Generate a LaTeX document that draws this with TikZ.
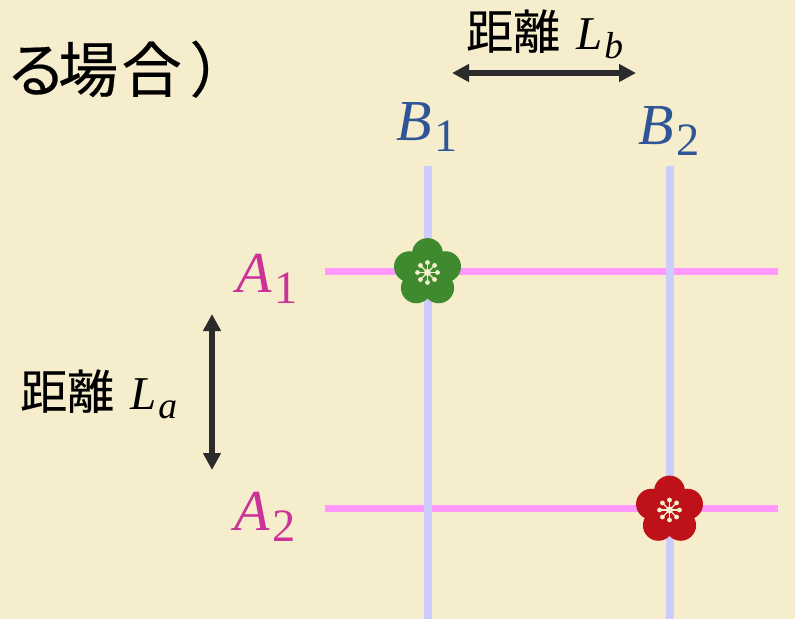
\documentclass[tikz,border=0pt]{standalone}
\usepackage{fontspec}
\usepackage{graphicx}
\newfontfamily\jpfont[FakeBold=0.4]{Noto Sans CJK JP}
\newfontfamily\varfont{Liberation Serif}
\usetikzlibrary{arrows.meta}
\definecolor{bgc}{HTML}{F5EDCB}
\definecolor{pinkline}{HTML}{FF99FF}
\definecolor{lavline}{HTML}{CCCCFF}
\definecolor{magc}{HTML}{CC3399}
\definecolor{bluec}{HTML}{2F5597}
\definecolor{darkc}{HTML}{2B2B2B}
\definecolor{greenf}{HTML}{3F8A2E}
\definecolor{redf}{HTML}{BF1218}
\definecolor{creamf}{HTML}{F6F0CF}
\newcommand{\symb}[3]{{\fontsize{#1pt}{#1pt}\varfont\selectfont\itshape #2\kern3pt\raisebox{-0.2em}{\scalebox{0.8}{\upshape #3}}}}
\newcommand{\dist}[2]{{\fontsize{47pt}{47pt}\jpfont\selectfont #1\hspace{0.34em}\varfont\itshape L\kern2pt\raisebox{-0.2em}{\scalebox{0.8}{#2}}}}
\tikzset{
 x=1pt,y=-1pt,
 hline/.style={pinkline,line width=7.5pt},
 vline/.style={lavline,line width=8pt},
 distarrow/.style={darkc,line width=5.5pt,{Triangle[length=17pt,width=17pt]}-{Triangle[length=17pt,width=17pt]}},
 txt/.style={inner sep=0pt,anchor=base west}
}
\newcommand{\plum}[3]{%
 \begin{scope}[shift={(#1,#2)}]
  \foreach \a in {-90,-18,54,126,198}{\fill[#3] (\a:19) circle[radius=15.4pt];}
  \fill[#3] (0,0) circle[radius=18pt];
  \foreach \a in {0,45,...,315}{
   \draw[creamf,line width=1.3pt] (0,0) -- (\a:10);
   \fill[creamf] (\a:10) circle[radius=2.4pt];}
  \fill[creamf] (0,0) circle[radius=3.5pt];
 \end{scope}}
\begin{document}
\begin{tikzpicture}
\useasboundingbox (0,0) rectangle (795,619);
\fill[bgc] (0,0) rectangle (795,619);
\coordinate (a1l) at (325,271.5); \coordinate (a1r) at (778,271.5);
\coordinate (a2l) at (325,508.5); \coordinate (a2r) at (778,508.5);
\coordinate (b1t) at (428,166); \coordinate (b1b) at (428,619);
\coordinate (b2t) at (670,166); \coordinate (b2b) at (670,619);
\draw[hline] (a1l) -- (a1r);
\draw[hline] (a2l) -- (a2r);
\draw[vline] (b1t) -- (b1b);
\draw[vline] (b2t) -- (b2b);
\coordinate (dbl) at (452,73); \coordinate (dbr) at (636,73);
\coordinate (dat) at (212,314); \coordinate (dab) at (212,470);
\draw[distarrow] (dbl) -- (dbr);
\draw[distarrow] (dat) -- (dab);
\plum{427.5}{272.5}{greenf}
\plum{669.5}{510}{redf}
\node[txt] (title) at (6,92) {\fontsize{60pt}{60pt}\jpfont\selectfont る\kern-8pt 場\kern3.5pt 合\kern8pt ）};
\node[txt] (lb) at (466,49) {\dist{距離}{b}};
\node[txt] (la) at (20,409) {\dist{距離}{a}};
\node[txt,text=magc] (A1) at (236,292) {\symb{58}{A}{1}};
\node[txt,text=magc] (A2) at (234,530) {\symb{58}{A}{2}};
\node[txt,text=bluec] (B1) at (396,140) {\symb{58}{B}{1}};
\node[txt,text=bluec] (B2) at (638,144) {\symb{58}{B}{2}};
\end{tikzpicture}
\end{document}
